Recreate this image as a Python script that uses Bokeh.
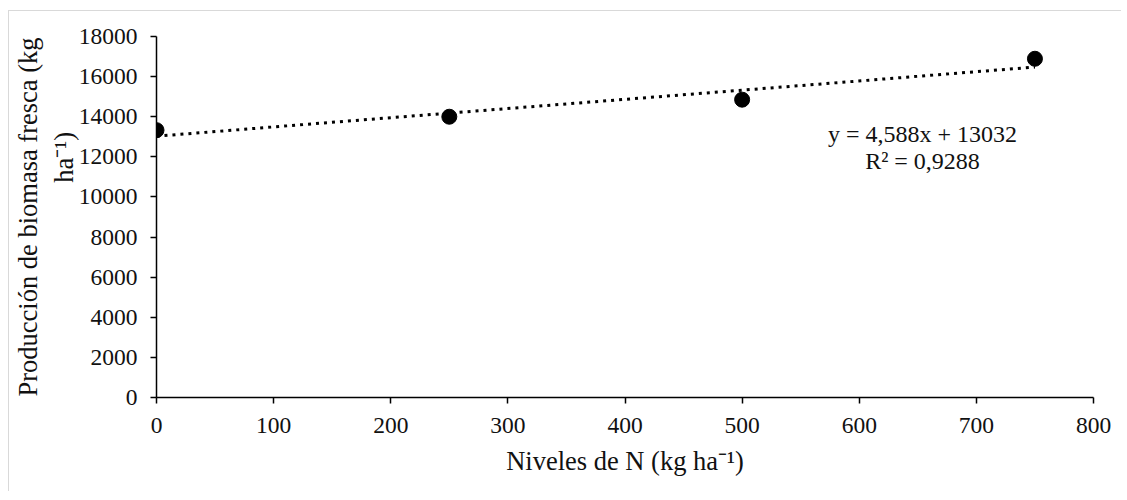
from bokeh.plotting import figure
from bokeh.models import Range1d, FixedTicker, Label
from bokeh.embed import file_html
from bokeh.resources import INLINE

# data
n_levels = [0, 250, 500, 750]
biomass = [13330, 14000, 14850, 16890]
slope = 4.588
intercept = 13032
r2_text = "R² = 0,9288"
eq_text = "y = 4,588x + 13032"
x_ticks = [0, 100, 200, 300, 400, 500, 600, 700, 800]
y_ticks = [0, 2000, 4000, 6000, 8000, 10000, 12000, 14000, 16000, 18000]

FONT = "Liberation Serif"

p = figure(frame_width=937, frame_height=361, output_backend="svg",
           toolbar_location=None, x_range=Range1d(0, 800), y_range=Range1d(0, 18000),
           min_border_left=147, min_border_right=28, min_border_top=25, min_border_bottom=94,
           styles={"margin-left": "8px", "margin-top": "10px",
                   "border-top": "1px solid #d9d9d9", "border-left": "1px solid #d9d9d9"})
p.outline_line_color = None
p.grid.visible = False
p.background_fill_color = "white"
p.border_fill_color = "white"

for ax in (p.xaxis[0], p.yaxis[0]):
    ax.axis_line_color = "black"
    ax.axis_line_width = 1.5
    ax.major_tick_line_color = "black"
    ax.major_tick_line_width = 1.5
    ax.major_tick_out = 6
    ax.major_tick_in = 0
    ax.minor_tick_line_color = None
    ax.major_label_text_font = FONT
    ax.major_label_text_font_size = "23.5px"
    ax.major_label_text_color = "#111111"
    ax.axis_label_text_font = FONT
    ax.axis_label_text_font_size = "26.5px"
    ax.axis_label_text_font_style = "normal"
    ax.axis_label_text_color = "#111111"

p.xaxis.ticker = FixedTicker(ticks=x_ticks)
p.yaxis.ticker = FixedTicker(ticks=y_ticks)
p.xaxis.major_label_standoff = 14
p.yaxis.major_label_standoff = 13
p.xaxis.axis_label = "Niveles de N (kg ha⁻¹)"
p.yaxis.axis_label = "Producción de biomasa fresca (kg\n" + "\u00a0" * 18 + "ha⁻¹)"
p.xaxis.axis_label_standoff = 10
p.yaxis.axis_label_standoff = -3

# trend line
tx = [n_levels[0], n_levels[-1]]
ty = [intercept + slope * v for v in tx]
p.line(tx, ty, line_color="black", line_width=3, line_dash="3 5")

p.scatter(n_levels, biomass, size=15, fill_color="black", line_color="black")

p.add_layout(Label(x=654, y=13160, text=eq_text, text_align="center", text_baseline="middle",
                   text_font=FONT, text_font_size="24px", text_color="#111111"))
p.add_layout(Label(x=654, y=11770, text=r2_text, text_align="center", text_baseline="middle",
                   text_font=FONT, text_font_size="24px", text_color="#111111"))

open("out.html", "w").write(file_html(p, INLINE))
